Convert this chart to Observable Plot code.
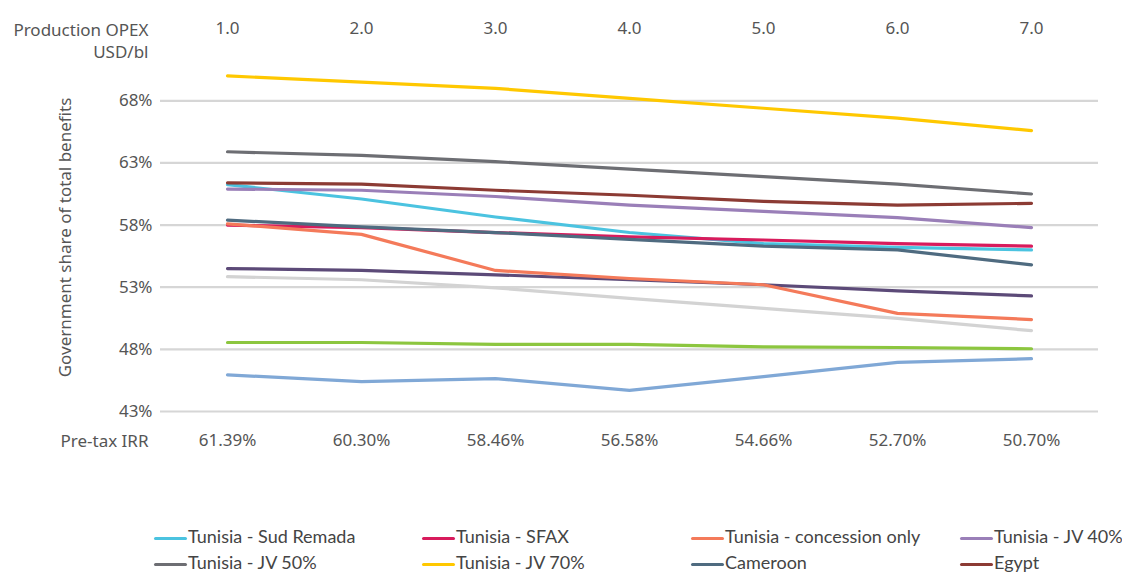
<!DOCTYPE html>
<html><head><meta charset="utf-8">
<script src="https://cdn.jsdelivr.net/npm/d3@7"></script>
<script src="https://cdn.jsdelivr.net/npm/@observablehq/plot@0.6"></script>
<style>
body{margin:0;background:#fff;font-family:"Noto Sans",sans-serif;}
#chart{position:relative;width:1122px;height:572px;overflow:hidden;}
#legend{position:absolute;left:0;top:523px;width:1122px;font-family:Lato,sans-serif;font-size:18px;color:#444;}
.item{position:absolute;height:26px;line-height:26px;white-space:nowrap;}
.sw{display:inline-block;width:33px;height:3px;vertical-align:middle;margin-right:1px;border-radius:2px;}
</style></head><body>
<div id="chart"><div id="legend"></div></div>
<script>
// Categories
const opex = ["1.0","2.0","3.0","4.0","5.0","6.0","7.0"];
const irr = ["61.39%","60.30%","58.46%","56.58%","54.66%","52.70%","50.70%"];
const yTicks = [43,48,53,58,63,68];

// Series (government share of total benefits, %)
const sudRemada   = [61.25,60.1,58.65,57.4,56.5,56.2,56.0];
const sfax        = [58.0,57.8,57.4,57.05,56.8,56.5,56.3];
const concession  = [58.1,57.25,54.35,53.7,53.2,50.9,50.4];
const jv40        = [60.9,60.8,60.3,59.6,59.1,58.6,57.8];
const jv50        = [63.9,63.6,63.1,62.5,61.9,61.3,60.5];
const jv70        = [70.0,69.5,69.0,68.2,67.4,66.6,65.6];
const cameroon    = [58.4,57.85,57.4,56.85,56.3,56.0,54.8];
const egypt       = [61.4,61.3,60.8,60.4,59.9,59.6,59.75];
const otherA      = [54.5,54.35,54.0,53.6,53.2,52.7,52.3];
const otherB      = [53.85,53.6,52.95,52.1,51.3,50.5,49.5];
const otherC      = [48.55,48.55,48.4,48.4,48.2,48.15,48.05];
const otherD      = [45.95,45.4,45.65,44.7,45.8,46.95,47.25];

const names  = ["Series A","Series B","Series C","Series D",
  "Tunisia - Sud Remada","Tunisia - SFAX","Tunisia - concession only","Tunisia - JV 40%",
  "Tunisia - JV 50%","Tunisia - JV 70%","Cameroon","Egypt"];
const values = [otherA,otherB,otherC,otherD,sudRemada,sfax,concession,jv40,jv50,jv70,cameroon,egypt];
const colors = ["#5c4a78","#d3d3d3","#8cc63f","#80a8d6",
  "#4bc3e0","#d81b5c","#f47a5a","#9a7fb8","#6d6e73","#ffc800","#4f6b80","#8c3b34"];
const legendNames = ["Tunisia - Sud Remada","Tunisia - SFAX","Tunisia - concession only","Tunisia - JV 40%",
  "Tunisia - JV 50%","Tunisia - JV 70%","Cameroon","Egypt"];

const rows = names.flatMap((n,i)=>values[i].map((v,j)=>({series:n, opex:opex[j], value:v})));

const chart = Plot.plot({
  width:1122, height:510,
  marginLeft:160, marginRight:24, marginTop:63, marginBottom:99,
  style:{fontFamily:"'Noto Sans',sans-serif", fontSize:"17px", color:"#555", background:"transparent"},
  x:{type:"point", domain:opex, padding:0.5},
  y:{domain:[43,71], ticks:yTicks},
  color:{domain:names, range:colors},
  marks:[
    Plot.ruleY(yTicks,{stroke:"#d6d6d6", strokeWidth:2.2}),
    Plot.axisY({ticks:yTicks, tickSize:0, tickPadding:8, tickFormat:d=>d+"%",
      label:"Government share of total benefits", labelAnchor:"center", labelOffset:102, labelArrow:"none"}),
    Plot.axisX({anchor:"top", tickSize:0, tickPadding:30, label:null}),
    Plot.axisX({anchor:"bottom", tickSize:0, tickPadding:22, tickFormat:(d,i)=>irr[opex.indexOf(d)], label:null}),
    Plot.text(["Production OPEX\nUSD/bl"],{frameAnchor:"top-left", dx:-12, dy:-24, textAnchor:"end", lineAnchor:"middle", lineHeight:1.3, fill:"#555"}),
    Plot.text(["Pre-tax IRR"],{frameAnchor:"bottom-left", dx:-12, dy:30, textAnchor:"end", lineAnchor:"middle", fill:"#555"}),
    Plot.line(rows,{x:"opex", y:"value", z:"series", stroke:"series", strokeWidth:3.2, strokeLinecap:"round", strokeLinejoin:"round", clip:false})
  ]
});
document.getElementById("chart").prepend(chart);

const lg = document.getElementById("legend");
const colX = [154,422,691,960];
legendNames.forEach((n,i)=>{
  const d = document.createElement("div");
  d.className="item";
  d.style.left = colX[i%4]+"px";
  d.style.top = (Math.floor(i/4)*26)+"px";
  const c = colors[names.indexOf(n)];
  d.innerHTML = `<span class="sw" style="background:${c}"></span>${n}`;
  lg.appendChild(d);
});
</script>
</body></html>
